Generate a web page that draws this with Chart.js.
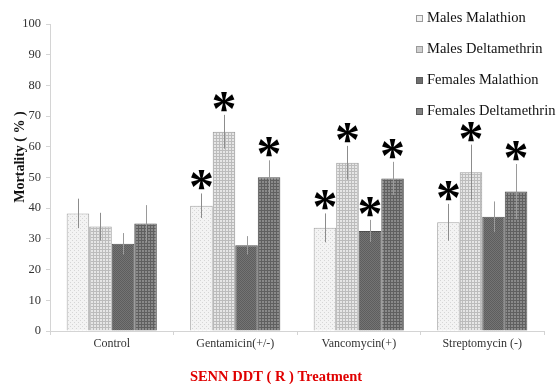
<!DOCTYPE html>
<html>
<head>
<meta charset="utf-8">
<script src="https://cdn.jsdelivr.net/npm/chart.js@4.4.1/dist/chart.umd.min.js"></script>
<style>
  html, body { margin: 0; padding: 0; background: #fff; }
  #wrap { width: 556px; height: 384px; }
</style>
</head>
<body>
<div id="wrap"><canvas id="c" width="556" height="384"></canvas></div>
<script>
// Treatment groups and mortality (%) per sex / insecticide
const categories = ['Control', 'Gentamicin(+/-)', 'Vancomycin(+)', 'Streptomycin (-)'];
const seriesNames = ['Males Malathion', 'Males Deltamethrin', 'Females Malathion', 'Females Deltamethrin'];

const malesMalathion      = [38.3, 40.8, 33.6, 35.4];
const malesDeltamethrin   = [34.0, 64.9, 54.8, 51.7];
const femalesMalathion    = [28.4, 27.9, 32.6, 37.2];
const femalesDeltamethrin = [35.0, 50.1, 49.7, 45.4];

// Standard deviations
const malesMalathionErr      = [4.8, 4.0, 4.7, 6.0];
const malesDeltamethrinErr   = [4.5, 5.5, 5.5, 9.0];
const femalesMalathionErr    = [3.5, 3.0, 3.6, 5.0];
const femalesDeltamethrinErr = [6.0, 5.5, 5.4, 9.0];

// Significant difference vs control
const malesMalathionSig      = [false, true, true, true];
const malesDeltamethrinSig   = [false, true, true, true];
const femalesMalathionSig    = [false, false, true, false];
const femalesDeltamethrinSig = [false, true, true, true];

const yTicks = [0, 10, 20, 30, 40, 50, 60, 70, 80, 90, 100];

const serif = '"Liberation Serif", "Times New Roman", serif';

// Hatch fills
function makePattern(size, paint) {
  const c = document.createElement('canvas');
  c.width = size; c.height = size;
  const g = c.getContext('2d');
  paint(g, size);
  return c.getContext('2d').createPattern(c, 'repeat');
}
const fills = [
  makePattern(4, (g, s) => {
    g.fillStyle = '#f3f3f3'; g.fillRect(0, 0, s, s);
    g.fillStyle = '#d6d6d6'; g.fillRect(0, 0, 1, 1); g.fillRect(2, 2, 1, 1);
  }),
  makePattern(3, (g, s) => {
    g.fillStyle = '#e6e6e6'; g.fillRect(0, 0, s, s);
    g.fillStyle = '#bcbcbc'; g.fillRect(0, 0, s, 1); g.fillRect(0, 0, 1, s);
  }),
  makePattern(2, (g, s) => {
    g.fillStyle = '#747474'; g.fillRect(0, 0, s, s);
    g.fillStyle = '#5e5e5e'; g.fillRect(0, 0, 1, 1); g.fillRect(1, 1, 1, 1);
  }),
  makePattern(3, (g, s) => {
    g.fillStyle = '#8a8a8a'; g.fillRect(0, 0, s, s);
    g.fillStyle = '#606060'; g.fillRect(0, 0, s, 1); g.fillRect(0, 0, 1, s);
  })
];
const borders = ['#a3a3a3', '#9a9a9a', '#4f4f4f', '#4f4f4f'];
const legendColors = ['#f0f0f0', '#cfcfcf', '#6e6e6e', '#818181'];

const values = [malesMalathion, malesDeltamethrin, femalesMalathion, femalesDeltamethrin];
const errors = [malesMalathionErr, malesDeltamethrinErr, femalesMalathionErr, femalesDeltamethrinErr];
const sig = [malesMalathionSig, malesDeltamethrinSig, femalesMalathionSig, femalesDeltamethrinSig];

const datasets = seriesNames.map((name, i) => ({
  label: name,
  data: values[i],
  backgroundColor: fills[i],
  borderColor: borders[i],
  borderWidth: 1,
  categoryPercentage: 0.73,
  barPercentage: 1.0
}));

// Error bars and significance stars
const errorBarPlugin = {
  id: 'errorBars',
  afterDatasetsDraw(chart) {
    const ctx = chart.ctx;
    const y = chart.scales.y;
    ctx.save();
    datasets.forEach((ds, i) => {
      const meta = chart.getDatasetMeta(i);
      meta.data.forEach((bar, j) => {
        const v = values[i][j], e = errors[i][j];
        const x = Math.round(bar.x) + 0.5;
        const top = y.getPixelForValue(v + e);
        const bot = y.getPixelForValue(v - e);
        ctx.strokeStyle = i < 2 ? '#8c8c8c' : '#9a9a9a';
        ctx.lineWidth = 1;
        ctx.beginPath();
        ctx.moveTo(x, top);
        ctx.lineTo(x, bot);
        ctx.stroke();
        if (sig[i][j]) {
          ctx.font = 'bold 50px ' + serif;
          ctx.fillStyle = '#000';
          ctx.textAlign = 'center';
          ctx.textBaseline = 'alphabetic';
          const m = ctx.measureText('*');
          const cy = top - 13;
          ctx.fillText('*', bar.x, cy + (m.actualBoundingBoxAscent - m.actualBoundingBoxDescent) / 2);
        }
      });
    });
    ctx.restore();
  }
};

// Legend and axis titles
const decorPlugin = {
  id: 'decor',
  afterDraw(chart) {
    const ctx = chart.ctx;
    ctx.save();
    // legend
    const rowY = [18.5, 49.5, 80.5, 111.5];
    ctx.font = '14.5px ' + serif;
    ctx.textAlign = 'left';
    ctx.textBaseline = 'middle';
    seriesNames.forEach((name, i) => {
      ctx.fillStyle = legendColors[i];
      ctx.fillRect(416, rowY[i] - 3.5, 7, 7);
      ctx.strokeStyle = i < 2 ? '#9a9a9a' : '#5a5a5a';
      ctx.lineWidth = 1;
      ctx.strokeRect(416.5, rowY[i] - 3, 6, 6);
      ctx.fillStyle = '#111';
      ctx.fillText(name, 427, rowY[i]);
    });
    // y title
    ctx.save();
    ctx.translate(20, 157);
    ctx.rotate(-Math.PI / 2);
    ctx.font = 'bold 14px ' + serif;
    ctx.fillStyle = '#111';
    ctx.textAlign = 'center';
    ctx.textBaseline = 'middle';
    ctx.fillText('Mortality ( % )', 0, 0);
    ctx.restore();
    // x title
    ctx.font = 'bold 14.5px ' + serif;
    ctx.fillStyle = '#e00000';
    ctx.textAlign = 'center';
    ctx.textBaseline = 'middle';
    ctx.fillText('SENN DDT ( R ) Treatment', 276, 377);
    ctx.restore();
  }
};

new Chart(document.getElementById('c'), {
  type: 'bar',
  data: { labels: categories, datasets },
  options: {
    responsive: false,
    animation: false,
    devicePixelRatio: 1,
    layout: { padding: { top: 24, right: 12, bottom: 33, left: 0 } },
    plugins: {
      legend: { display: false },
      tooltip: { enabled: false }
    },
    scales: {
      x: {
        afterFit(s) { s.height = 20; },
        grid: {
          offset: true,
          drawOnChartArea: false,
          drawTicks: true,
          tickLength: 4,
          color: '#d4d4d4'
        },
        border: { color: '#d4d4d4', width: 1 },
        ticks: {
          padding: 2,
          color: '#333',
          font: { family: serif, size: 12 }
        }
      },
      y: {
        min: 0,
        max: 100,
        afterFit(s) { s.width = 50; },
        afterBuildTicks(s) { s.ticks = yTicks.map(v => ({ value: v })); },
        grid: {
          drawOnChartArea: false,
          drawTicks: true,
          tickLength: 4,
          color: '#d4d4d4'
        },
        border: { color: '#d4d4d4', width: 1 },
        ticks: {
          padding: 5,
          color: '#333',
          font: { family: serif, size: 12.5 }
        }
      }
    }
  },
  plugins: [errorBarPlugin, decorPlugin]
});
</script>
</body>
</html>
